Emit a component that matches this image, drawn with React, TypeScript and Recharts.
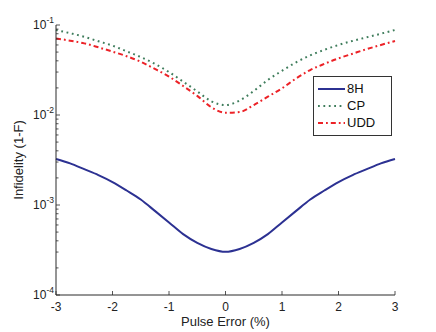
import React from 'react'
import { LineChart, Line, XAxis, YAxis, Legend } from 'recharts'

const pulseError = [
  -3, -2.75, -2.5, -2.25, -2, -1.75, -1.5, -1.25, -1, -0.75, -0.5, -0.25, 0,
  0.25, 0.5, 0.75, 1, 1.25, 1.5, 1.75, 2, 2.25, 2.5, 2.75, 3,
]
const eightH = [
  3.25e-3, 2.9e-3, 2.5e-3, 2.15e-3, 1.8e-3, 1.45e-3, 1.15e-3, 8.6e-4, 6.4e-4, 4.75e-4, 3.8e-4, 3.25e-4, 3.02e-4,
  3.25e-4, 3.8e-4, 4.75e-4, 6.4e-4, 8.6e-4, 1.15e-3, 1.45e-3, 1.8e-3, 2.15e-3, 2.5e-3, 2.9e-3, 3.25e-3,
]
const cp = [
  8.8e-2, 8.1e-2, 7.4e-2, 6.6e-2, 5.9e-2, 5.1e-2, 4.4e-2, 3.7e-2, 3.0e-2, 2.35e-2, 1.83e-2, 1.42e-2, 1.29e-2,
  1.45e-2, 1.85e-2, 2.45e-2, 3.1e-2, 3.85e-2, 4.6e-2, 5.3e-2, 6.0e-2, 6.65e-2, 7.3e-2, 8.0e-2, 8.8e-2,
]
const udd = [
  7.1e-2, 6.7e-2, 6.25e-2, 5.65e-2, 5.06e-2, 4.5e-2, 3.9e-2, 3.25e-2, 2.67e-2, 2.1e-2, 1.63e-2, 1.22e-2, 1.06e-2,
  1.08e-2, 1.29e-2, 1.6e-2, 1.98e-2, 2.55e-2, 3.16e-2, 3.7e-2, 4.26e-2, 4.8e-2, 5.4e-2, 6.0e-2, 6.64e-2,
]

const xTicks = [-3, -2, -1, 0, 1, 2, 3]
const decades = [-4, -3, -2, -1]
const yTicks = decades.flatMap((d) =>
  d === -1 ? [Math.pow(10, d)] : [1, 2, 3, 4, 5, 6, 7, 8, 9].map((m) => m * Math.pow(10, d))
)

const data = pulseError.map((x, i) => ({ x, h8: eightH[i], cp: cp[i], udd: udd[i] }))

const FONT = 'Arial, "Liberation Sans", sans-serif'
const AXIS = '#2a2a2a'

function isDecade(v: number) {
  const l = Math.log10(v)
  return Math.abs(l - Math.round(l)) < 1e-6
}

function LeftTick({ x, y, payload }: any) {
  const major = isDecade(payload.value)
  const exp = Math.round(Math.log10(payload.value))
  return (
    <g>
      <line x1={x} y1={y} x2={x + (major ? 4 : 2.5)} y2={y} stroke={AXIS} strokeWidth={0.8} />
      {major && (
        <text x={x - 2} y={y + 4} textAnchor="end" fontSize={12} fill="#222" fontFamily={FONT}>
          10
          <tspan dy={-6} fontSize={8.5}>{exp}</tspan>
        </text>
      )}
    </g>
  )
}

function RightTick({ x, y, payload }: any) {
  const major = isDecade(payload.value)
  return <line x1={x} y1={y} x2={x - (major ? 4 : 2.5)} y2={y} stroke={AXIS} strokeWidth={0.8} />
}

function BottomTick({ x, y, payload }: any) {
  return (
    <g>
      <line x1={x} y1={y} x2={x} y2={y - 4} stroke={AXIS} strokeWidth={0.8} />
      <text x={x} y={y + 16} textAnchor="middle" fontSize={12} fill="#222" fontFamily={FONT}>
        {payload.value}
      </text>
    </g>
  )
}

function TopTick({ x, y }: any) {
  return <line x1={x} y1={y} x2={x} y2={y + 4} stroke={AXIS} strokeWidth={0.8} />
}

function LegendBox({ payload }: any) {
  return (
    <div
      style={{
        width: 79,
        height: 60,
        border: '1px solid #333',
        background: '#fff',
        boxSizing: 'border-box',
        paddingTop: 3,
      }}
    >
      {(payload || []).map((p: any) => (
        <div key={p.value} style={{ display: 'flex', alignItems: 'center', height: 17 }}>
          <svg width={33} height={10} style={{ display: 'block' }}>
            <line
              x1={4}
              y1={5}
              x2={31}
              y2={5}
              stroke={p.color}
              strokeWidth={2}
              strokeDasharray={p.payload?.strokeDasharray}
            />
          </svg>
          <span style={{ fontSize: 13, fontFamily: FONT, color: '#111', lineHeight: '13px' }}>{p.value}</span>
        </div>
      ))}
    </div>
  )
}

export default function App() {
  return (
    <div style={{ position: 'absolute', left: 0, top: 0, width: 436, height: 332, background: '#fff' }}>
      <LineChart width={436} height={332} data={data} margin={{ top: 25, right: 41, left: 0, bottom: 0 }}>
        <XAxis
          dataKey="x"
          type="number"
          domain={[-3, 3]}
          ticks={xTicks}
          height={37}
          tickSize={0}
          tickMargin={0}
          tick={<BottomTick />}
          axisLine={{ stroke: AXIS, strokeWidth: 1 }}
          label={{ value: 'Pulse Error (%)', position: 'insideBottom', offset: 6, fontSize: 13, fill: '#222', fontFamily: FONT }}
        />
        <XAxis
          xAxisId="top"
          orientation="top"
          dataKey="x"
          type="number"
          domain={[-3, 3]}
          ticks={xTicks}
          height={0}
          tickSize={0}
          tickMargin={0}
          tick={<TopTick />}
          axisLine={{ stroke: AXIS, strokeWidth: 1 }}
        />
        <YAxis
          scale="log"
          type="number"
          domain={[1e-4, 1e-1]}
          allowDataOverflow
          ticks={yTicks}
          interval={0}
          width={56}
          tickSize={0}
          tickMargin={0}
          tick={<LeftTick />}
          axisLine={{ stroke: AXIS, strokeWidth: 1 }}
          label={{
            value: 'Infidelity (1-F)',
            angle: -90,
            position: 'insideLeft',
            offset: 18,
            style: { textAnchor: 'middle', fontSize: 13, fill: '#222', fontFamily: FONT },
          }}
        />
        <YAxis
          yAxisId="right"
          orientation="right"
          scale="log"
          type="number"
          domain={[1e-4, 1e-1]}
          allowDataOverflow
          ticks={yTicks}
          interval={0}
          width={0}
          tickSize={0}
          tickMargin={0}
          tick={<RightTick />}
          axisLine={{ stroke: AXIS, strokeWidth: 1 }}
        />
        <Legend
          layout="vertical"
          verticalAlign="middle"
          align="center"
          content={<LegendBox />}
          wrapperStyle={{ position: 'absolute', left: 313, top: 76, width: 79, height: 60 }}
        />
        <Line
          dataKey="h8"
          name="8H"
          type="monotone"
          stroke="#2c3192"
          strokeWidth={2}
          dot={false}
          isAnimationActive={false}
        />
        <Line
          dataKey="cp"
          name="CP"
          type="monotone"
          stroke="#3f7d5c"
          strokeWidth={2}
          strokeDasharray="1.8 3.6"
          dot={false}
          isAnimationActive={false}
        />
        <Line
          dataKey="udd"
          name="UDD"
          type="monotone"
          stroke="#ec2227"
          strokeWidth={2}
          strokeDasharray="5 3 1.8 3"
          dot={false}
          isAnimationActive={false}
        />
      </LineChart>
    </div>
  )
}
